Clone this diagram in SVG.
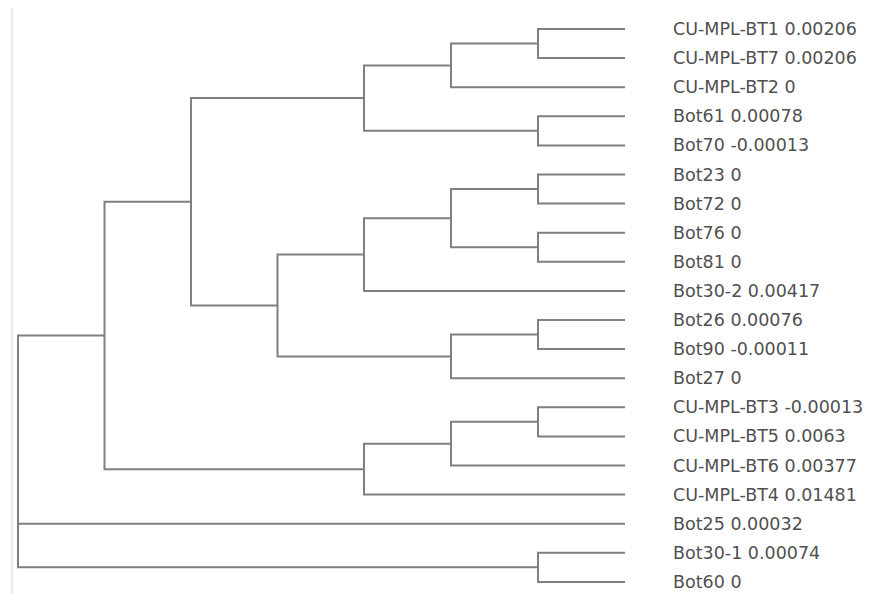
<svg xmlns="http://www.w3.org/2000/svg" width="874" height="594" viewBox="0 0 874 594">
  <style>
    .edge { fill: none; stroke: #808080; stroke-width: 2; stroke-linejoin: miter; }
    .label { font-family: "DejaVu Sans", Verdana, sans-serif; font-size: 17.5px; fill: #505050; }
    .frame { stroke: #ececec; stroke-width: 2; }
  </style>
  <rect width="874" height="594" fill="#ffffff"/>
  <line class="frame" x1="12" y1="8" x2="12" y2="594"/>

  <!-- tree branches: each path joins one internal node to its children -->
  <g id="connectors">
    <path class="edge" d="M625 29 H538 V58.1 H625"/>
    <path class="edge" d="M538 43.55 H451 V87.2 H625"/>
    <path class="edge" d="M625 116.3 H538 V145.4 H625"/>
    <path class="edge" d="M451 65.4 H364 V130.85 H538"/>
    <path class="edge" d="M625 174.5 H538 V203.6 H625"/>
    <path class="edge" d="M625 232.7 H538 V261.8 H625"/>
    <path class="edge" d="M538 189.05 H451 V247.25 H538"/>
    <path class="edge" d="M451 218.15 H364 V290.9 H625"/>
    <path class="edge" d="M625 320 H538 V349.1 H625"/>
    <path class="edge" d="M538 334.55 H451 V378.2 H625"/>
    <path class="edge" d="M364 254.5 H277.5 V356.4 H451"/>
    <path class="edge" d="M364 98.1 H191 V305.45 H277.5"/>
    <path class="edge" d="M625 407.3 H538 V436.4 H625"/>
    <path class="edge" d="M538 421.85 H451 V465.5 H625"/>
    <path class="edge" d="M451 443.7 H364 V494.6 H625"/>
    <path class="edge" d="M191 201.8 H104.5 V469.15 H364"/>
    <path class="edge" d="M625 552.8 H538 V581.9 H625"/>
    <path class="edge" d="M104.5 335.5 H18 V567.35 H538"/>
    <path class="edge" d="M18 523.7 H625"/>
  </g>

  <!-- leaf labels -->
  <g id="leaf-cu-mpl-bt1"><text class="label" x="673" y="35">CU-MPL-BT1 0.00206</text></g>
  <g id="leaf-cu-mpl-bt7"><text class="label" x="673" y="64.1">CU-MPL-BT7 0.00206</text></g>
  <g id="leaf-cu-mpl-bt2"><text class="label" x="673" y="93.2">CU-MPL-BT2 0</text></g>
  <g id="leaf-bot61"><text class="label" x="673" y="122.3">Bot61 0.00078</text></g>
  <g id="leaf-bot70"><text class="label" x="673" y="151.4">Bot70 -0.00013</text></g>
  <g id="leaf-bot23"><text class="label" x="673" y="180.5">Bot23 0</text></g>
  <g id="leaf-bot72"><text class="label" x="673" y="209.6">Bot72 0</text></g>
  <g id="leaf-bot76"><text class="label" x="673" y="238.7">Bot76 0</text></g>
  <g id="leaf-bot81"><text class="label" x="673" y="267.8">Bot81 0</text></g>
  <g id="leaf-bot30-2"><text class="label" x="673" y="296.9">Bot30-2 0.00417</text></g>
  <g id="leaf-bot26"><text class="label" x="673" y="326">Bot26 0.00076</text></g>
  <g id="leaf-bot90"><text class="label" x="673" y="355.1">Bot90 -0.00011</text></g>
  <g id="leaf-bot27"><text class="label" x="673" y="384.2">Bot27 0</text></g>
  <g id="leaf-cu-mpl-bt3"><text class="label" x="673" y="413.3">CU-MPL-BT3 -0.00013</text></g>
  <g id="leaf-cu-mpl-bt5"><text class="label" x="673" y="442.4">CU-MPL-BT5 0.0063</text></g>
  <g id="leaf-cu-mpl-bt6"><text class="label" x="673" y="471.5">CU-MPL-BT6 0.00377</text></g>
  <g id="leaf-cu-mpl-bt4"><text class="label" x="673" y="500.6">CU-MPL-BT4 0.01481</text></g>
  <g id="leaf-bot25"><text class="label" x="673" y="529.7">Bot25 0.00032</text></g>
  <g id="leaf-bot30-1"><text class="label" x="673" y="558.8">Bot30-1 0.00074</text></g>
  <g id="leaf-bot60"><text class="label" x="673" y="587.9">Bot60 0</text></g>
</svg>
